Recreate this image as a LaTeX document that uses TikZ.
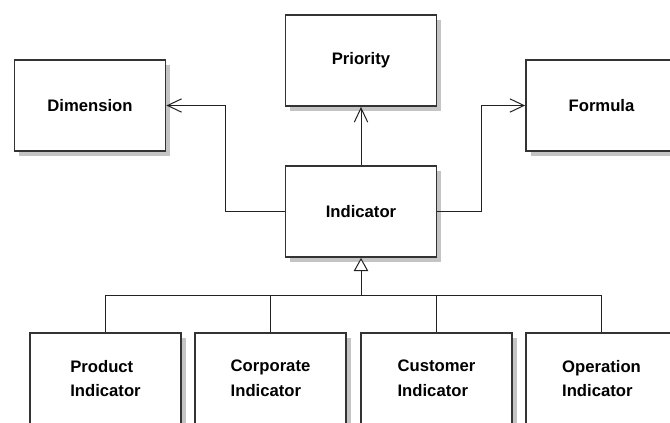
\documentclass[tikz,border=0pt]{standalone}
\usepackage{fontspec}
\setmainfont{Liberation Sans}
\usetikzlibrary{arrows.meta,shadows}

\tikzset{every picture/.style={line width=0.75pt}}
\tikzset{
  classbox/.style={draw={rgb,255:red,51;green,51;blue,51}, line width=1.1pt, fill=white,
    minimum width=113.5pt, minimum height=68.5pt, inner sep=0pt, align=left,
    font=\fontsize{12.5}{18.5}\selectfont\bfseries,
    drop shadow={shadow xshift=3.5pt, shadow yshift=-3.5pt, fill={rgb,255:red,196;green,196;blue,196}, opacity=1}},
  assoc/.style={draw={rgb,255:red,34;green,34;blue,34}, -{Straight Barb[length=10.5pt,width=10pt,line width=0.75pt]}},
  gen/.style={draw={rgb,255:red,34;green,34;blue,34}, -{Triangle[open,length=10pt,width=11pt,line width=0.75pt,fill=white]}},
  link/.style={draw={rgb,255:red,34;green,34;blue,34}}
}

\begin{document}
\begin{tikzpicture}[x=0.75pt,y=0.75pt,yscale=-1,xscale=1]
\path[use as bounding box] (0,0) rectangle (670,422);
\clip (0,0) rectangle (670,422);

%Shape: Rectangle [id:dim]
\node (dim) at (90,105.5) [classbox] {Dimension};
%Shape: Rectangle [id:pri]
\node (pri) at (361,60.5) [classbox] {Priority};
%Shape: Rectangle [id:frm]
\node (frm) at (601.5,105.5) [classbox] {Formula};
%Shape: Rectangle [id:ind]
\node (ind) at (361,211.5) [classbox] {Indicator};
%Shape: Rectangle [id:prod]
\node (prod) at (105.5,378.5) [classbox] {Product\\Indicator};
%Shape: Rectangle [id:corp]
\node (corp) at (270.5,378.5) [classbox] {Corporate\\Indicator};
%Shape: Rectangle [id:cust]
\node (cust) at (436.5,378.5) [classbox] {Customer\\Indicator};
%Shape: Rectangle [id:oper]
\node (oper) at (601.5,378.5) [classbox] {Operation\\Indicator};

%Straight Lines [id:ind-dim]
\draw [assoc]  (ind.west) -- ++(-59.5,0) |- (dim.east) ;
%Straight Lines [id:ind-pri]
\draw [assoc]  (ind.north) -- (pri.south) ;
%Straight Lines [id:ind-frm]
\draw [assoc]  (ind.east) -- ++(44,0) |- (frm.west) ;

%Straight Lines [id:generalisation]
\coordinate (bus) at (361,295.5);
\draw [gen]  (bus) -- (ind.south) ;
\draw [link]  (prod.north) |- (bus) ;
\draw [link]  (corp.north) |- (bus) ;
\draw [link]  (cust.north) |- (bus) ;
\draw [link]  (oper.north) |- (bus) ;

\end{tikzpicture}
\end{document}
